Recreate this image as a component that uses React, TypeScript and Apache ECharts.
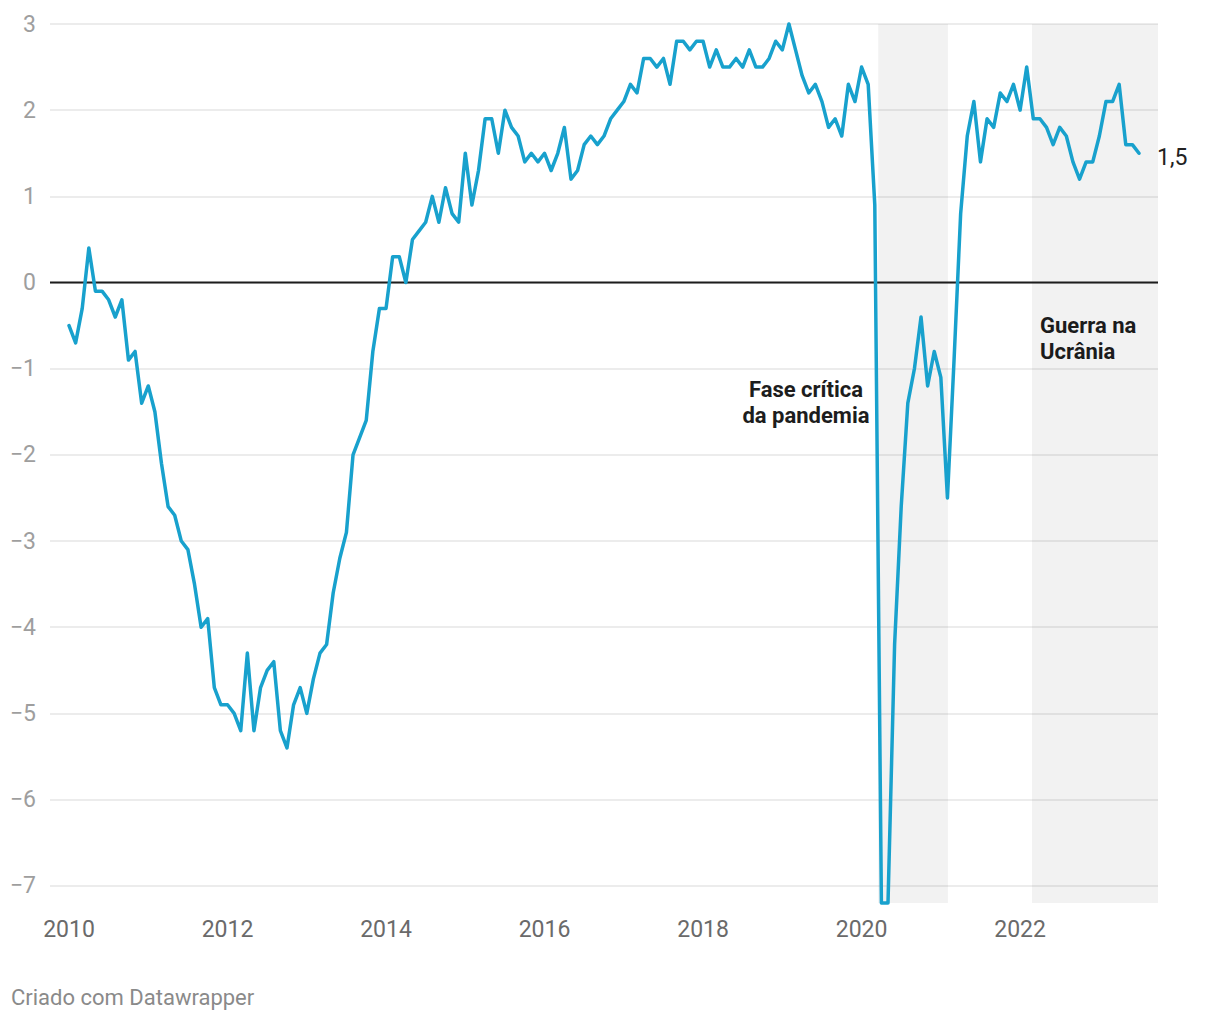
import React, { useEffect, useRef } from "react";
import * as echarts from "echarts";

// Monthly values, Jan of each year onward
const v2010 = [-0.5, -0.7, -0.3, 0.4, -0.1, -0.1, -0.2, -0.4, -0.2, -0.9, -0.8, -1.4];
const v2011 = [-1.2, -1.5, -2.1, -2.6, -2.7, -3.0, -3.1, -3.5, -4.0, -3.9, -4.7, -4.9];
const v2012 = [-4.9, -5.0, -5.2, -4.3, -5.2, -4.7, -4.5, -4.4, -5.2, -5.4, -4.9, -4.7];
const v2013 = [-5.0, -4.6, -4.3, -4.2, -3.6, -3.2, -2.9, -2.0, -1.8, -1.6, -0.8, -0.3];
const v2014 = [-0.3, 0.3, 0.3, 0.0, 0.5, 0.6, 0.7, 1.0, 0.7, 1.1, 0.8, 0.7];
const v2015 = [1.5, 0.9, 1.3, 1.9, 1.9, 1.5, 2.0, 1.8, 1.7, 1.4, 1.5, 1.4];
const v2016 = [1.5, 1.3, 1.5, 1.8, 1.2, 1.3, 1.6, 1.7, 1.6, 1.7, 1.9, 2.0];
const v2017 = [2.1, 2.3, 2.2, 2.6, 2.6, 2.5, 2.6, 2.3, 2.8, 2.8, 2.7, 2.8];
const v2018 = [2.8, 2.5, 2.7, 2.5, 2.5, 2.6, 2.5, 2.7, 2.5, 2.5, 2.6, 2.8];
const v2019 = [2.7, 3.0, 2.7, 2.4, 2.2, 2.3, 2.1, 1.8, 1.9, 1.7, 2.3, 2.1];
const v2020 = [2.5, 2.3, 0.9, -7.2, -7.2, -4.2, -2.6, -1.4, -1.0, -0.4, -1.2, -0.8];
const v2021 = [-1.1, -2.5, -0.9, 0.8, 1.7, 2.1, 1.4, 1.9, 1.8, 2.2, 2.1, 2.3];
const v2022 = [2.0, 2.5, 1.9, 1.9, 1.8, 1.6, 1.8, 1.7, 1.4, 1.2, 1.4, 1.4];
const v2023 = [1.7, 2.1, 2.1, 2.3, 1.6, 1.6, 1.5];

const FIRST_YEAR = 2010;
const yearly = [v2010, v2011, v2012, v2013, v2014, v2015, v2016, v2017, v2018, v2019, v2020, v2021, v2022, v2023];

const xTickYears = [2010, 2012, 2014, 2016, 2018, 2020, 2022];
const X_MIN = 2009.76;
const X_MAX = 2023.74;
const Y_MIN = -7.2;
const Y_MAX = 3;

// shaded periods (fractional years)
const pandemicPeriod = [2020.21, 2021.09];
const warPeriod = [2022.15, X_MAX];

const FONT = "Roboto, 'Noto Sans', sans-serif";

function buildSeries() {
  const out: [number, number][] = [];
  yearly.forEach((arr, yi) => {
    arr.forEach((v, mi) => {
      out.push([FIRST_YEAR + yi + mi / 12, v]);
    });
  });
  return out;
}

export default function App() {
  const ref = useRef<HTMLDivElement>(null);
  useEffect(() => {
    if (!ref.current) return;
    const chart = echarts.init(ref.current, undefined, { renderer: "svg" });
    const data = buildSeries();
    const fmtNum = (v: number) => (v < 0 ? "\u2212" + Math.abs(v) : String(v));
    chart.setOption({
      animation: false,
      textStyle: { fontFamily: FONT },
      grid: { left: 50, right: 62, top: 24, bottom: 117, containLabel: false },
      xAxis: {
        type: "value",
        min: X_MIN,
        max: X_MAX,
        minInterval: 2,
        maxInterval: 2,
        axisLine: { show: false },
        axisTick: { show: false },
        splitLine: { show: false },
        axisLabel: {
          formatter: (v: number) => (xTickYears.indexOf(Math.round(v * 1000) / 1000) >= 0 ? String(v) : ""),
          color: "#6a6a6a",
          fontSize: 23,
          fontFamily: FONT,
          margin: 15,
        },
      },
      yAxis: {
        type: "value",
        min: Y_MIN,
        max: Y_MAX,
        minInterval: 1,
        maxInterval: 1,
        axisLine: { show: false },
        axisTick: { show: false },
        splitLine: { show: true, showMinLine: false, lineStyle: { color: "#e6e6e6", width: 1.5 } },
        axisLabel: {
          formatter: (v: number) => (Number.isInteger(v) ? fmtNum(v) : ""),
          color: "#9e9e9e",
          fontSize: 23,
          fontFamily: FONT,
          margin: 14,
        },
      },
      series: [
        {
          type: "line",
          data: [
            [X_MIN, 0],
            [X_MAX, 0],
          ],
          z: 1,
          symbol: "none",
          silent: true,
          lineStyle: { color: "#1d1d1d", width: 2 },
        },
        {
          type: "line",
          data,
          z: 3,
          symbol: "none",
          clip: false,
          lineStyle: { color: "#18a1cd", width: 3.5, join: "round", cap: "round" },
          endLabel: {
            show: true,
            formatter: (p: any) => p.value[1].toFixed(1).replace(".", ","),
            color: "#222",
            fontSize: 23,
            fontFamily: FONT,
            distance: 18,
            offset: [0, 4],
          },
          markArea: {
            silent: true,
            itemStyle: { color: "rgba(0,0,0,0.052)" },
            data: [
              [{ xAxis: pandemicPeriod[0] }, { xAxis: pandemicPeriod[1] }],
              [{ xAxis: warPeriod[0] }, { xAxis: warPeriod[1] }],
            ],
          },
        },
      ],
      graphic: [
        {
          type: "text",
          x: 806,
          y: 376,
          style: {
            text: "Fase crítica\nda pandemia",
            fill: "#1d1d1d",
            font: `bold 22px ${FONT}`,
            align: "center",
            verticalAlign: "top",
            lineHeight: 26,
          },
        },
        {
          type: "text",
          x: 1040,
          y: 312,
          style: {
            text: "Guerra na\nUcrânia",
            fill: "#1d1d1d",
            font: `bold 22px ${FONT}`,
            align: "left",
            verticalAlign: "top",
            lineHeight: 26,
          },
        },
        {
          type: "text",
          x: 11,
          y: 997,
          style: {
            text: "Criado com Datawrapper",
            fill: "#8a8a8a",
            font: `22px ${FONT}`,
            align: "left",
            verticalAlign: "middle",
          },
        },
      ],
    });
    return () => chart.dispose();
  }, []);
  return (
    <div
      ref={ref}
      style={{ position: "absolute", left: 0, top: 0, width: 1220, height: 1020, background: "#fff" }}
    />
  );
}
